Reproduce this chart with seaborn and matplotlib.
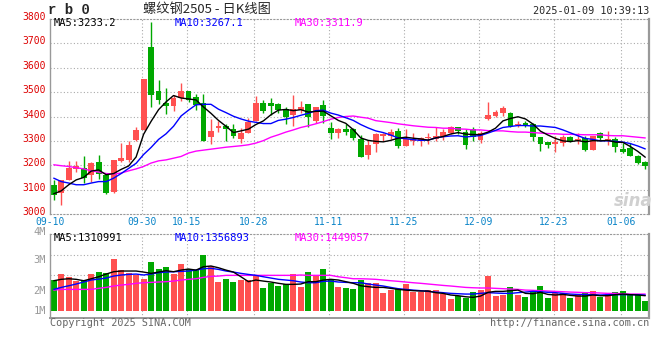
import matplotlib
matplotlib.use("Agg")
import matplotlib.pyplot as plt
import matplotlib.transforms as mtransforms
import numpy as np
import pandas as pd
import seaborn as sns

# trading days shown (SHFE calendar, holidays removed)
holidays = pd.to_datetime(["2024-09-16", "2024-09-17", "2024-10-01", "2024-10-02",
                           "2024-10-03", "2024-10-04", "2024-10-07", "2025-01-01"])
days = pd.bdate_range("2024-09-10", "2025-01-09")
days = days[~days.isin(holidays)]
dates = days.strftime("%m-%d").tolist()

tick_dates = ["09-10", "09-30", "10-15", "10-28", "11-11", "11-25", "12-09", "12-23", "01-06"]
price_ticks = [3000, 3100, 3200, 3300, 3400, 3500, 3600, 3700, 3800]

open_ = [3120, 3086, 3140, 3185, 3188, 3158, 3215, 3161, 3092, 3218,
         3222, 3304, 3345, 3684, 3505, 3457, 3445, 3475, 3505, 3478,
         3457, 3314, 3351, 3362, 3348, 3308, 3334, 3382, 3457, 3457,
         3452, 3430, 3407, 3427, 3452, 3382, 3448, 3352, 3334, 3348,
         3348, 3307, 3243, 3288, 3318, 3321, 3342, 3277, 3300, 3301,
         3311, 3307, 3318, 3334, 3356, 3338, 3348, 3304, 3390, 3402,
         3416, 3414, 3365, 3375, 3369, 3315, 3295, 3287, 3293, 3314,
         3301, 3311, 3263, 3331, 3304, 3308, 3267, 3270, 3240, 3213]
high = [3140, 3140, 3219, 3219, 3236, 3215, 3243, 3168, 3222, 3293,
        3300, 3355, 3554, 3789, 3550, 3518, 3489, 3536, 3505, 3491,
        3491, 3389, 3383, 3369, 3369, 3352, 3393, 3485, 3468, 3475,
        3457, 3441, 3489, 3464, 3452, 3441, 3468, 3379, 3352, 3369,
        3352, 3325, 3304, 3334, 3334, 3348, 3352, 3348, 3334, 3316,
        3334, 3356, 3348, 3362, 3356, 3348, 3355, 3341, 3459, 3426,
        3443, 3420, 3382, 3382, 3375, 3315, 3297, 3318, 3325, 3320,
        3331, 3318, 3321, 3336, 3341, 3314, 3291, 3291, 3244, 3218]
low = [3058, 3038, 3140, 3174, 3127, 3133, 3143, 3083, 3088, 3215,
       3215, 3300, 3345, 3437, 3450, 3411, 3424, 3464, 3460, 3427,
       3301, 3287, 3338, 3301, 3311, 3291, 3331, 3382, 3414, 3407,
       3414, 3370, 3359, 3414, 3355, 3373, 3373, 3308, 3311, 3325,
       3304, 3232, 3226, 3256, 3300, 3307, 3270, 3277, 3284, 3277,
       3287, 3301, 3304, 3330, 3330, 3267, 3300, 3291, 3386, 3396,
       3402, 3355, 3355, 3356, 3300, 3259, 3270, 3256, 3277, 3295,
       3288, 3259, 3263, 3304, 3284, 3254, 3250, 3236, 3206, 3185]
close = [3079, 3140, 3188, 3195, 3147, 3211, 3164, 3088, 3222, 3229,
         3284, 3345, 3554, 3489, 3468, 3445, 3475, 3505, 3468, 3448,
         3301, 3341, 3362, 3348, 3318, 3334, 3379, 3457, 3423, 3443,
         3427, 3397, 3430, 3441, 3397, 3441, 3402, 3334, 3348, 3337,
         3311, 3232, 3284, 3327, 3327, 3338, 3277, 3307, 3307, 3311,
         3314, 3321, 3336, 3356, 3342, 3284, 3314, 3334, 3407, 3420,
         3434, 3363, 3369, 3366, 3314, 3288, 3284, 3297, 3315, 3300,
         3307, 3263, 3321, 3311, 3308, 3274, 3254, 3240, 3211, 3195]

ma5 = [3083, 3095, 3120, 3140, 3150, 3176, 3181, 3161, 3166, 3183,
       3197, 3234, 3327, 3380, 3428, 3460, 3486, 3476, 3472, 3468,
       3439, 3413, 3384, 3360, 3334, 3341, 3348, 3367, 3382, 3407,
       3426, 3429, 3424, 3428, 3418, 3421, 3422, 3403, 3384, 3372,
       3346, 3312, 3302, 3298, 3296, 3302, 3311, 3315, 3311, 3308,
       3303, 3312, 3318, 3328, 3334, 3328, 3326, 3326, 3336, 3352,
       3382, 3392, 3399, 3390, 3369, 3340, 3324, 3310, 3300, 3297,
       3301, 3296, 3301, 3300, 3302, 3295, 3294, 3277, 3257, 3233]
ma10 = [3147, 3133, 3127, 3120, 3120, 3127, 3133, 3133, 3147, 3166,
        3187, 3208, 3244, 3273, 3306, 3329, 3360, 3402, 3426, 3448,
        3450, 3450, 3430, 3416, 3401, 3390, 3381, 3376, 3371, 3371,
        3384, 3389, 3396, 3405, 3413, 3424, 3426, 3414, 3406, 3395,
        3384, 3367, 3353, 3341, 3334, 3324, 3312, 3309, 3305, 3302,
        3303, 3312, 3317, 3320, 3321, 3316, 3319, 3322, 3332, 3343,
        3355, 3359, 3363, 3363, 3361, 3361, 3358, 3355, 3345, 3333,
        3321, 3310, 3306, 3300, 3300, 3298, 3295, 3289, 3279, 3267]
ma30 = [3202, 3198, 3195, 3190, 3185, 3177, 3172, 3166, 3164, 3168,
        3177, 3185, 3195, 3209, 3218, 3222, 3229, 3236, 3250, 3258,
        3262, 3266, 3270, 3274, 3277, 3280, 3284, 3291, 3301, 3315,
        3325, 3336, 3345, 3355, 3362, 3370, 3379, 3389, 3396, 3400,
        3402, 3397, 3393, 3383, 3379, 3375, 3370, 3366, 3362, 3359,
        3356, 3355, 3352, 3352, 3349, 3348, 3345, 3345, 3342, 3341,
        3341, 3338, 3336, 3336, 3334, 3332, 3330, 3329, 3327, 3327,
        3326, 3325, 3325, 3325, 3322, 3321, 3321, 3318, 3315, 3312]

# volume, in millions of lots
vol = [2.65, 3.16, 2.90, 2.56, 2.65, 3.16, 3.33, 3.25, 4.44, 3.50,
       3.25, 3.08, 2.73, 4.19, 3.59, 3.76, 3.16, 4.02, 3.59, 3.50,
       4.79, 3.85, 2.48, 2.73, 2.48, 2.65, 2.65, 3.08, 1.97, 2.39,
       2.14, 2.31, 3.16, 2.05, 3.33, 3.10, 3.59, 2.71, 2.08, 1.99,
       1.88, 2.65, 2.37, 2.42, 1.57, 1.79, 1.88, 2.33, 1.65, 1.65,
       1.79, 1.79, 1.45, 1.03, 1.31, 1.14, 1.62, 1.79, 3.02, 1.28,
       1.37, 2.05, 1.37, 1.20, 1.62, 2.14, 1.11, 1.57, 1.57, 1.11,
       1.37, 1.57, 1.71, 1.20, 1.51, 1.62, 1.71, 1.45, 1.45, 0.88]
vol_ma5 = [2.59, 2.71, 2.76, 2.71, 2.59, 2.76, 2.93, 3.16, 3.36, 3.42,
           3.42, 3.42, 3.33, 3.22, 3.33, 3.45, 3.36, 3.50, 3.59, 3.50,
           3.79, 3.85, 3.70, 3.50, 3.33, 2.93, 2.51, 2.65, 2.56, 2.48,
           2.37, 2.28, 2.28, 2.31, 2.51, 2.51, 2.65, 2.71, 2.65, 2.51,
           2.37, 2.16, 2.08, 2.02, 2.02, 1.94, 1.85, 1.79, 1.74, 1.71,
           1.71, 1.57, 1.51, 1.37, 1.31, 1.22, 1.17, 1.28, 1.60, 1.68,
           1.68, 1.74, 1.79, 1.51, 1.48, 1.60, 1.42, 1.37, 1.42, 1.34,
           1.28, 1.28, 1.37, 1.31, 1.31, 1.40, 1.45, 1.40, 1.37, 1.31]
vol_ma10 = [1.85, 2.02, 2.16, 2.31, 2.48, 2.65, 2.73, 2.82, 2.99, 3.08,
            3.13, 3.16, 3.08, 3.16, 3.28, 3.33, 3.36, 3.39, 3.42, 3.50,
            3.62, 3.65, 3.56, 3.42, 3.33, 3.22, 3.13, 3.05, 2.93, 2.82,
            2.71, 2.65, 2.59, 2.48, 2.42, 2.42, 2.54, 2.56, 2.48, 2.45,
            2.42, 2.42, 2.31, 2.22, 2.14, 2.02, 1.91, 1.85, 1.79, 1.74,
            1.68, 1.62, 1.57, 1.51, 1.48, 1.45, 1.45, 1.51, 1.57, 1.54,
            1.51, 1.51, 1.57, 1.62, 1.68, 1.65, 1.60, 1.57, 1.51, 1.45,
            1.42, 1.40, 1.40, 1.37, 1.40, 1.40, 1.40, 1.40, 1.40, 1.36]
vol_ma30 = [1.79, 1.85, 1.85, 1.85, 1.85, 1.85, 1.94, 2.02, 2.14, 2.22,
            2.28, 2.37, 2.42, 2.45, 2.48, 2.51, 2.56, 2.65, 2.71, 2.76,
            2.88, 2.96, 2.99, 3.05, 3.05, 3.05, 3.05, 3.05, 3.05, 3.05,
            3.05, 3.05, 3.05, 3.08, 3.05, 3.05, 3.05, 3.05, 2.93, 2.85,
            2.76, 2.76, 2.74, 2.71, 2.65, 2.59, 2.54, 2.48, 2.42, 2.37,
            2.31, 2.25, 2.19, 2.14, 2.08, 2.02, 1.99, 1.97, 1.97, 1.94,
            1.91, 1.88, 1.85, 1.79, 1.77, 1.74, 1.71, 1.68, 1.65, 1.62,
            1.60, 1.57, 1.57, 1.54, 1.51, 1.51, 1.48, 1.45, 1.45, 1.45]

RED = "#ff5050"
GREEN = "#00a800"
GRID = "#aaaaaa"
EDGE = "#999999"

sns.set_style("white")
plt.rcParams["font.family"] = ["DejaVu Sans Mono", "Noto Sans CJK SC"]

df = pd.DataFrame({"i": np.arange(len(dates)), "date": dates,
                   "open": open_, "high": high, "low": low, "close": close,
                   "ma5": ma5, "ma10": ma10, "ma30": ma30,
                   "vol": vol, "vol_ma5": vol_ma5, "vol_ma10": vol_ma10, "vol_ma30": vol_ma30})
df["dir"] = np.where(df["close"] >= df["open"], "up", "down")
colors = df["dir"].map({"up": RED, "down": GREEN})

W, H = 660, 360
fig = plt.figure(figsize=(6.6, 3.6), dpi=100)


def px(x, y):
    return x / W, 1 - y / H


ax = fig.add_axes([50 / W, 1 - 214 / H, 599 / W, 195 / H])
axv = fig.add_axes([50 / W, 1 - 317.7 / H, 599 / W, 83.4 / H])

# --- price panel ---
ax.vlines(df["i"], df["low"], df["high"], colors=colors, lw=1)
body = (df["close"] - df["open"]).abs().clip(lower=4)
ax.bar(df["i"], body, bottom=df[["open", "close"]].min(axis=1), width=0.78,
       color=colors, lw=0)
sns.lineplot(data=df, x="i", y="ma30", color="#ff00ff", lw=1, ax=ax)
sns.lineplot(data=df, x="i", y="ma10", color="#0000ff", lw=1, ax=ax)
sns.lineplot(data=df, x="i", y="ma5", color="black", lw=1, ax=ax)

tick_pos = [df.index[df["date"] == d][0] - 0.25 for d in tick_dates]
tick_pos[0] = -0.5

ax.set_xlim(-0.5, len(dates) - 0.5)
ax.set_ylim(3000, 3800)
ax.set_yticks(price_ticks)
ax.set_yticklabels([str(t) for t in price_ticks], color="#dd0000", fontsize=7)
ax.set_xticks(tick_pos)
ax.set_xticklabels(tick_dates, color="#0a84c8", fontsize=7)
ax.tick_params(axis="both", length=0)
ax.tick_params(axis="y", pad=3)
ax.tick_params(axis="x", pad=2)
shift = mtransforms.ScaledTranslation(0, 3 / 100, fig.dpi_scale_trans)
for lab in ax.get_yticklabels():
    lab.set_transform(lab.get_transform() + shift)
ax.set_xlabel("")
ax.set_ylabel("")
for y in price_ticks[1:-1]:
    ax.axhline(y, color=GRID, lw=0.8, ls=(0, (1, 2)), zorder=0)
for x in tick_pos[1:]:
    ax.axvline(x, color=GRID, lw=0.8, ls=(0, (1, 2)), zorder=0)

# --- volume panel ---
sns.barplot(data=df, x="i", y="vol", hue="dir", palette={"up": RED, "down": GREEN},
            native_scale=True, dodge=False, width=0.8, saturation=1,
            legend=False, linewidth=0, ax=axv)
sns.lineplot(data=df, x="i", y="vol_ma30", color="#ff00ff", lw=1, ax=axv)
sns.lineplot(data=df, x="i", y="vol_ma10", color="#0000ff", lw=1, ax=axv)
sns.lineplot(data=df, x="i", y="vol_ma5", color="black", lw=1, ax=axv)
axv.set_xlim(-0.5, len(dates) - 0.5)
axv.set_ylim(-0.57, 6.56)
axv.set_xticks([])
axv.set_yticks([])
axv.set_xlabel("")
axv.set_ylabel("")
for y in [4.79, 3.05]:
    axv.axhline(y, color=GRID, lw=0.8, ls=(0, (1, 2)), zorder=0)
for x in tick_pos[1:]:
    axv.axvline(x, color=GRID, lw=0.8, ls=(0, (1, 2)), zorder=0)

for a in (ax, axv):
    for s in ("left", "right"):
        a.spines[s].set_color(EDGE)
        a.spines[s].set_linewidth(1)
    a.spines["right"].set_linewidth(1.6)
    a.spines["top"].set_color(EDGE)
    a.spines["top"].set_linestyle((0, (1, 2)))
ax.spines["bottom"].set_color(EDGE)
ax.spines["bottom"].set_linestyle((0, (1, 2)))
axv.spines["bottom"].set_color(EDGE)
axv.spines["bottom"].set_linewidth(1.4)

# --- texts ---
fig.text(*px(48, 10), "r b 0", fontsize=10, fontweight="bold",
         family="Liberation Mono", va="center", ha="left")
fig.text(*px(207, 10), "螺纹钢2505 - 日K线图", fontsize=9.5,
         family=["Noto Sans CJK SC", "DejaVu Sans"], va="center", ha="center")
fig.text(*px(649, 11), "2025-01-09 10:39:13", fontsize=7.3, va="center", ha="right")

fig.text(*px(54, 23), "MA5:3233.2", fontsize=7.5, color="black", va="center")
fig.text(*px(175, 23), "MA10:3267.1", fontsize=7.5, color="#0000ff", va="center")
fig.text(*px(295, 23), "MA30:3311.9", fontsize=7.5, color="#ff00ff", va="center")

fig.text(*px(54, 238), "MA5:1310991", fontsize=7.5, color="black", va="center")
fig.text(*px(175, 238), "MA10:1356893", fontsize=7.5, color="#0000ff", va="center")
fig.text(*px(295, 238), "MA30:1449057", fontsize=7.5, color="#ff00ff", va="center")

for lab, y in zip(["4M", "3M", "2M", "1M"], [231.5, 260, 290.7, 311]):
    fig.text(*px(46, y), lab, fontsize=7.5, color="#999999", va="center", ha="right")

fig.text(*px(633, 201), "sina", fontsize=12, color="#d0d0d0", style="italic",
         fontweight="bold", family="DejaVu Sans", va="center", ha="center")

fig.text(*px(50, 323), "Copyright 2025 SINA.COM", fontsize=7.3, color="#666666", va="center")
fig.text(*px(649, 323), "http://finance.sina.com.cn", fontsize=7.3, color="#666666",
         va="center", ha="right")

fig.savefig("out.png", dpi=100, facecolor="white")
